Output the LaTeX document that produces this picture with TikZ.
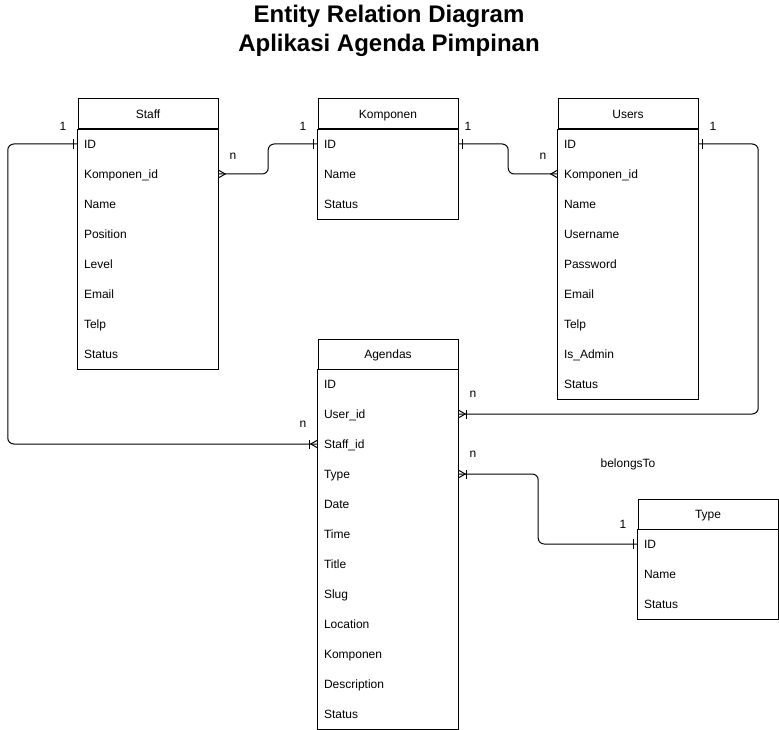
\documentclass[tikz,border=0pt]{standalone}
\usepackage{fontspec}
\setmainfont{Liberation Sans}
\usetikzlibrary{decorations.markings}
\tikzstyle{hd}=[rectangle,draw=black,line width=1pt,minimum width=140pt,
  minimum height=30pt,inner sep=0pt,text height=10pt,text depth=1pt,
  font=\fontsize{12}{14}\selectfont]
\tikzstyle{row}=[rectangle,minimum width=140pt,minimum height=30pt,inner sep=6pt,
  text width=128pt,text height=10pt,text depth=1pt,align=left,
  font=\fontsize{12}{14}\selectfont]
\tikzstyle{bx}=[draw=black,line width=1pt]
\tikzstyle{lbl}=[inner sep=0pt,font=\fontsize{12}{14}\selectfont]
\tikzstyle{rel}=[draw=black,line width=1pt,rounded corners=6pt]
\tikzstyle{tip}=[line width=1pt,sharp corners]
\tikzstyle{one start}=[postaction={decorate,decoration={markings,
  mark=at position 0 with {\draw [style=tip] (4pt,-5pt) -- (4pt,5pt);}}}]
\tikzstyle{one end}=[postaction={decorate,decoration={markings,
  mark=at position 1 with {\draw [style=tip] (-4pt,-5pt) -- (-4pt,5pt);}}}]
\tikzstyle{many start}=[postaction={decorate,decoration={markings,
  mark=at position 0 with {\draw [style=tip] (0pt,-4pt) -- (7pt,0pt) -- (0pt,4pt);}}}]
\tikzstyle{many end}=[postaction={decorate,decoration={markings,
  mark=at position 1 with {\draw [style=tip] (0pt,-4pt) -- (-7pt,0pt) -- (0pt,4pt);}}}]
\tikzstyle{mone start}=[postaction={decorate,decoration={markings,
  mark=at position 0 with {\draw [style=tip] (0pt,-4pt) -- (7pt,0pt) -- (0pt,4pt);
  \draw [style=tip] (8pt,-4.5pt) -- (8pt,4.5pt);}}}]
\tikzstyle{mone end}=[postaction={decorate,decoration={markings,
  mark=at position 1 with {\draw [style=tip] (0pt,-4pt) -- (-7pt,0pt) -- (0pt,4pt);
  \draw [style=tip] (-8pt,-4.5pt) -- (-8pt,4.5pt);}}}]

\begin{document}
\begin{tikzpicture}[x=1pt,y=-1pt]
    \useasboundingbox (0,0) rectangle (779,730);
    \node [align=center,font=\fontsize{24}{29}\selectfont\bfseries] (title) at (389,31)
      {Entity Relation Diagram\\Aplikasi Agenda Pimpinan};
    % Staff
    \node [style=hd] (s) at (148,114) {Staff};
    \node [style=row] (s1) at (148,144) {ID};
    \node [style=row] (s2) at (148,174) {Komponen\_id};
    \node [style=row] (s3) at (148,204) {Name};
    \node [style=row] (s4) at (148,234) {Position};
    \node [style=row] (s5) at (148,264) {Level};
    \node [style=row] (s6) at (148,294) {Email};
    \node [style=row] (s7) at (148,324) {Telp};
    \node [style=row] (s8) at (148,354) {Status};
    \draw [style=bx] (s.south west) rectangle (s8.south east);
    % Komponen
    \node [style=hd] (k) at (388,114) {Komponen};
    \node [style=row] (k1) at (388,144) {ID};
    \node [style=row] (k2) at (388,174) {Name};
    \node [style=row] (k3) at (388,204) {Status};
    \draw [style=bx] (k.south west) rectangle (k3.south east);
    % Users
    \node [style=hd] (u) at (628,114) {Users};
    \node [style=row] (u1) at (628,144) {ID};
    \node [style=row] (u2) at (628,174) {Komponen\_id};
    \node [style=row] (u3) at (628,204) {Name};
    \node [style=row] (u4) at (628,234) {Username};
    \node [style=row] (u5) at (628,264) {Password};
    \node [style=row] (u6) at (628,294) {Email};
    \node [style=row] (u7) at (628,324) {Telp};
    \node [style=row] (u8) at (628,354) {Is\_Admin};
    \node [style=row] (u9) at (628,384) {Status};
    \draw [style=bx] (u.south west) rectangle (u9.south east);
    % Agendas
    \node [style=hd] (a) at (388,354) {Agendas};
    \node [style=row] (a1) at (388,384) {ID};
    \node [style=row] (a2) at (388,414) {User\_id};
    \node [style=row] (a3) at (388,444) {Staff\_id};
    \node [style=row] (a4) at (388,474) {Type};
    \node [style=row] (a5) at (388,504) {Date};
    \node [style=row] (a6) at (388,534) {Time};
    \node [style=row] (a7) at (388,564) {Title};
    \node [style=row] (a8) at (388,594) {Slug};
    \node [style=row] (a9) at (388,624) {Location};
    \node [style=row] (a10) at (388,654) {Komponen};
    \node [style=row] (a11) at (388,684) {Description};
    \node [style=row] (a12) at (388,714) {Status};
    \draw [style=bx] (a.south west) rectangle (a12.south east);
    % Type
    \node [style=hd] (t) at (708,514) {Type};
    \node [style=row] (t1) at (708,544) {ID};
    \node [style=row] (t2) at (708,574) {Name};
    \node [style=row] (t3) at (708,604) {Status};
    \draw [style=bx] (t.south west) rectangle (t3.south east);
    % relations
    \draw [style=rel,one start,mone end] (s1.west) -- ++(-70,0) |- (a3.west);
    \draw [style=rel,many start,one end] (s2.east) -- ++(50,0) |- (k1.west);
    \draw [style=rel,one start,many end] (k1.east) -- ++(50,0) |- (u2.west);
    \draw [style=rel,one start,mone end] (u1.east) -- ++(60,0) |- (a2.east);
    \draw [style=rel,mone start,one end] (a4.east) -- ++(80,0) |- (t1.west);
    \node [style=lbl] (l1) at (63,126) {1};
    \node [style=lbl] (l2) at (303,424) {n};
    \node [style=lbl] (l3) at (233,156) {n};
    \node [style=lbl] (l4) at (303,126) {1};
    \node [style=lbl] (l5) at (468,126) {1};
    \node [style=lbl] (l6) at (543,156) {n};
    \node [style=lbl] (l7) at (713,126) {1};
    \node [style=lbl] (l8) at (473,394) {n};
    \node [style=lbl] (l9) at (473,454) {n};
    \node [style=lbl] (l10) at (623,524) {1};
    \node [style=lbl] (bt) at (628,464) {belongsTo};
\end{tikzpicture}
\end{document}
